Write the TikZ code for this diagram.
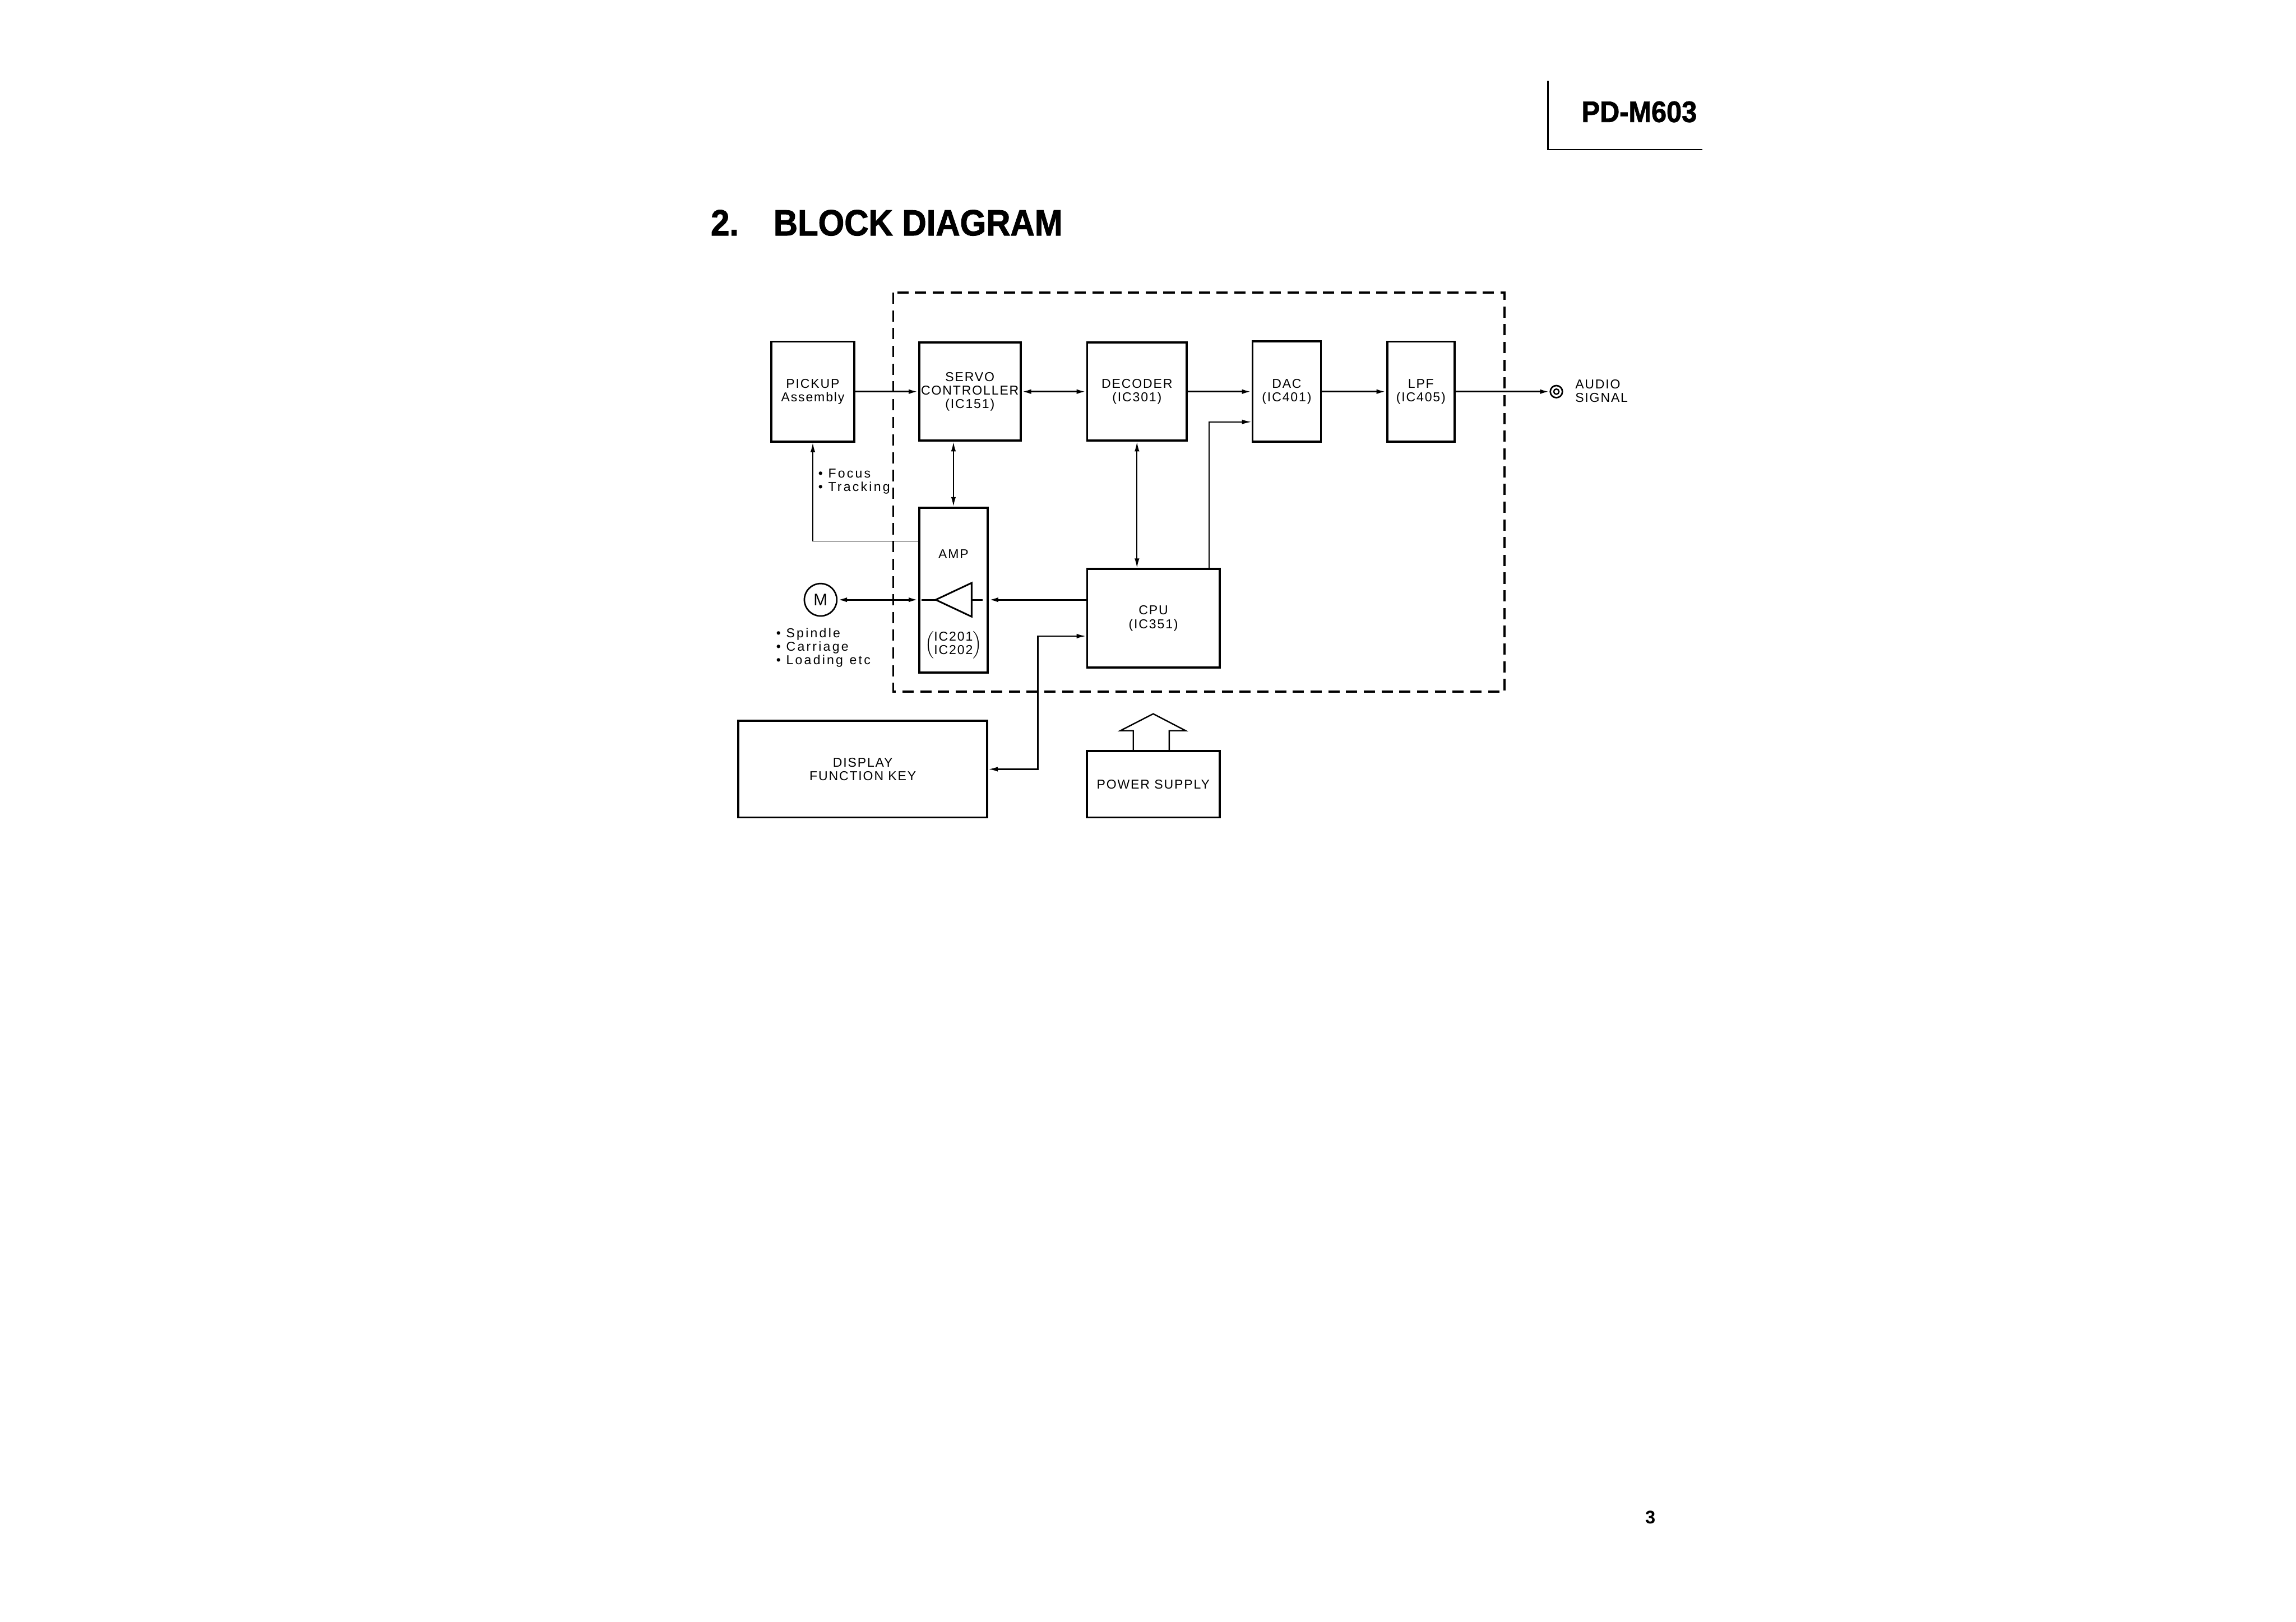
\documentclass[tikz,border=0pt]{standalone}
\usepackage{fontspec}
\setmainfont{Liberation Sans}
\newfontfamily\blockfont[LetterSpace=8]{Liberation Sans}
\newfontfamily\notefont[LetterSpace=14]{Liberation Sans}
\newfontfamily\headfont[FakeStretch=0.92,FakeBold=1.5]{Liberation Sans}
\usepackage{tikz}
\usetikzlibrary{arrows.meta,positioning}
\tikzset{
  >={Latex[length=2.2mm,width=1.1mm]},
  blk/.style={draw, rectangle, line width=1.4pt, align=center, inner sep=1pt,
              font=\blockfont\fontsize{8.5}{8.9}\selectfont},
  txt/.style={align=center, inner sep=0pt, font=\blockfont\fontsize{8.5}{8.9}\selectfont},
  note/.style={align=left, inner sep=0pt, font=\notefont\fontsize{8.5}{8.9}\selectfont},
  sig/.style={line width=1.1pt},
  mid/.style={line width=0.9pt},
  ctl/.style={line width=0.7pt},
  boundary/.style={line width=1.3pt, dash pattern=on 2.6mm off 1.5mm},
}

\begin{document}
\begin{tikzpicture}
  \useasboundingbox (0,0) rectangle (53.05,-37.48);
  % page header
  \node[anchor=base west, font=\headfont\bfseries\fontsize{19.5}{20}\selectfont] (model)
    at (36.42,-2.82) {PD-M603};
  \draw[line width=1pt] (35.77,-1.87) |- (39.33,-3.46);
  \node[anchor=base west, font=\headfont\bfseries\fontsize{24}{26}\selectfont] (title)
    at (16.30,-5.44) {2.\hspace{0.80cm}BLOCK DIAGRAM};

  % blocks
  \node[blk, minimum width=1.92cm, minimum height=2.31cm] (pickup)  at (18.78,-9.05) {PICKUP\\Assembly};
  \node[blk, minimum width=2.34cm, minimum height=2.27cm] (servo)   at (22.41,-9.05) {SERVO\\CONTROLLER\\(IC151)};
  \node[blk, minimum width=2.30cm, minimum height=2.27cm] (decoder) at (26.27,-9.05) {DECODER\\(IC301)};
  \node[blk, minimum width=1.58cm, minimum height=2.32cm] (dac)     at (29.73,-9.05) {DAC\\(IC401)};
  \node[blk, minimum width=1.56cm, minimum height=2.31cm] (lpf)     at (32.83,-9.05) {LPF\\(IC405)};
  \node[blk, minimum width=1.58cm, minimum height=3.81cm] (amp)     at (22.03,-13.635) {};
  \node[blk, minimum width=3.06cm, minimum height=2.28cm] (cpu)     at (26.65,-14.29) {CPU\\(IC351)};
  \node[blk, minimum width=5.75cm, minimum height=2.23cm] (disp)    at (19.935,-17.775) {DISPLAY\\FUNCTION KEY};
  \node[blk, minimum width=3.07cm, minimum height=1.53cm] (psu)     at (26.645,-18.125) {POWER SUPPLY};

  \node[txt] (amplbl) at (22.03,-12.80) {AMP};
  \node[txt] (ampic)  at (22.03,-14.90) {$\left(\begin{tabular}{@{}c@{}}IC201\\IC202\end{tabular}\right)$};

  % buffer inside the amp
  \coordinate (buftip)  at (21.62,-13.86);
  \coordinate (bufbase) at (22.45,-13.86);
  \draw[line width=1.1pt] (buftip) -- (22.45,-13.47) -- (22.45,-14.25) -- cycle;

  \node[draw, circle, line width=1pt, minimum size=0.75cm, inner sep=0pt,
        font=\fontsize{11}{12}\selectfont] (mot) at (18.96,-13.86) {M};
  \node[draw, circle, line width=1pt, minimum size=0.28cm, inner sep=0pt] (jack) at (35.96,-9.05) {};
  \node[draw, circle, line width=0.9pt, minimum size=0.12cm, inner sep=0pt] (jackin) at (jack) {};

  \node[txt, anchor=west, align=left] (audio) at (36.39,-9.03) {AUDIO\\SIGNAL};
  \node[note, anchor=west] (servonote) at (18.90,-11.12) {• Focus\\• Tracking};
  \node[note, anchor=west] (motnote)   at (17.93,-14.97) {• Spindle\\• Carriage\\• Loading\enspace etc};

  \draw[boundary] (20.64,-6.76) rectangle (34.76,-15.98);

  % signal path
  \draw[sig, ->]  (pickup) -- (servo);
  \draw[sig, <->] (servo) -- (decoder);
  \draw[sig, ->]  (decoder) -- (dac);
  \draw[sig, ->]  (dac) -- (lpf);
  \draw[sig, ->]  (lpf) -- (jack);

  % control lines
  \draw[ctl, <->] (amp.north |- servo.south) -- (amp.north);
  \draw[ctl, <->] (decoder.south) -- (decoder.south |- cpu.north);
  \draw[ctl, ->]  ([xshift=1.29cm]cpu.north) |- ([yshift=-0.70cm]dac.west);
  \draw[ctl, ->]  ([yshift=1.13cm]amp.west) -| (pickup.south);

  \draw[sig, ->]  (cpu.west |- bufbase) -- (amp.east |- bufbase);
  \draw[sig]      (bufbase) -- ([xshift=-0.14cm]amp.east |- bufbase);
  \draw[sig, <->] (mot) -- (amp.west |- mot);
  \draw[sig]      ([xshift=0.08cm]amp.west |- mot) -- (buftip);

  \coordinate (dispbend) at (23.98,-14.70);
  \draw[mid, <->] (cpu.west |- dispbend) -- (dispbend) |- (disp.east);

  % power arrow
  \draw[mid] ([xshift=-0.46cm]psu.north) -- ++(0,0.45) -- ++(-0.30,0) -- ++(0.76,0.39)
    -- ++(0.75,-0.39) -- ++(-0.38,0) -- ++(0,-0.45);

  \node[font=\bfseries\fontsize{12}{13}\selectfont] (pagenum) at (38.13,-35.07) {3};
\end{tikzpicture}
\end{document}
